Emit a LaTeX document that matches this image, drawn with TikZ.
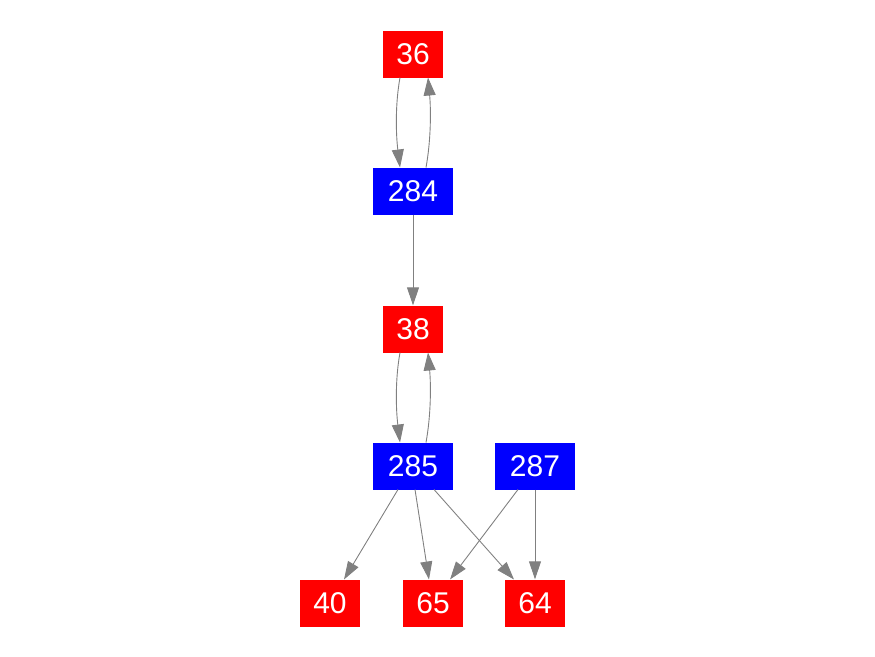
\documentclass[tikz,border=0pt]{standalone}
\usepackage{fontspec}
\setmainfont{Liberation Sans}
\usetikzlibrary{arrows.meta}
\definecolor{edgegray}{HTML}{808080}
\tikzset{
  boxbase/.style={text=white, minimum height=47pt, inner sep=0pt, text depth=0pt, text height=21.5pt, font=\fontsize{30}{30}\selectfont},
  redbox/.style={boxbase, fill=red, minimum width=60pt},
  bluebox/.style={boxbase, fill=blue, minimum width=80pt},
  conn/.style={draw=edgegray, line width=0.9pt, -{Triangle[length=18pt,width=12pt]}},
}
\begin{document}
\begin{tikzpicture}[x=1pt,y=-1pt]
\useasboundingbox (0,0) rectangle (875,656);
\node[redbox]  (n36)  at (413,54)  {36};
\node[bluebox] (n284) at (413,191) {284};
\node[redbox]  (n38)  at (413,329) {38};
\node[bluebox] (n285) at (413,466) {285};
\node[bluebox] (n287) at (535,466) {287};
\node[redbox]  (n40)  at (330,603) {40};
\node[redbox]  (n65)  at (433,603) {65};
\node[redbox]  (n64)  at (535,603) {64};
% 36 <-> 284
\coordinate (a1) at (400,77.5);
\coordinate (a2) at (400,167.5);
\coordinate (b1) at (426,167.5);
\coordinate (b2) at (428,77.5);
\draw[conn] (a1) .. controls (395,105) and (396,135) .. (a2);
\draw[conn] (b1) .. controls (431,140) and (431,110) .. (b2);
\draw[conn] (n284) -- (n38);
% 38 <-> 285
\coordinate (c1) at (400,352.5);
\coordinate (c2) at (400,442.5);
\coordinate (d1) at (426,442.5);
\coordinate (d2) at (428,352.5);
\draw[conn] (c1) .. controls (395,380) and (396,410) .. (c2);
\draw[conn] (d1) .. controls (431,415) and (431,385) .. (d2);
% 285 -> 40, 65, 64
\coordinate (e0) at (398,489.5);
\coordinate (e1) at (344,579.5);
\draw[conn] (e0) -- (e1);
\coordinate (f0) at (415,489.5);
\coordinate (f1) at (429,579.5);
\draw[conn] (f0) -- (f1);
\coordinate (g0) at (434,489.5);
\coordinate (g1) at (514,579.5);
\draw[conn] (g0) -- (g1);
% 287 -> 65, 64
\coordinate (h0) at (518,489.5);
\coordinate (h1) at (450,579.5);
\draw[conn] (h0) -- (h1);
\draw[conn] (n287) -- (n64);
\end{tikzpicture}
\end{document}
